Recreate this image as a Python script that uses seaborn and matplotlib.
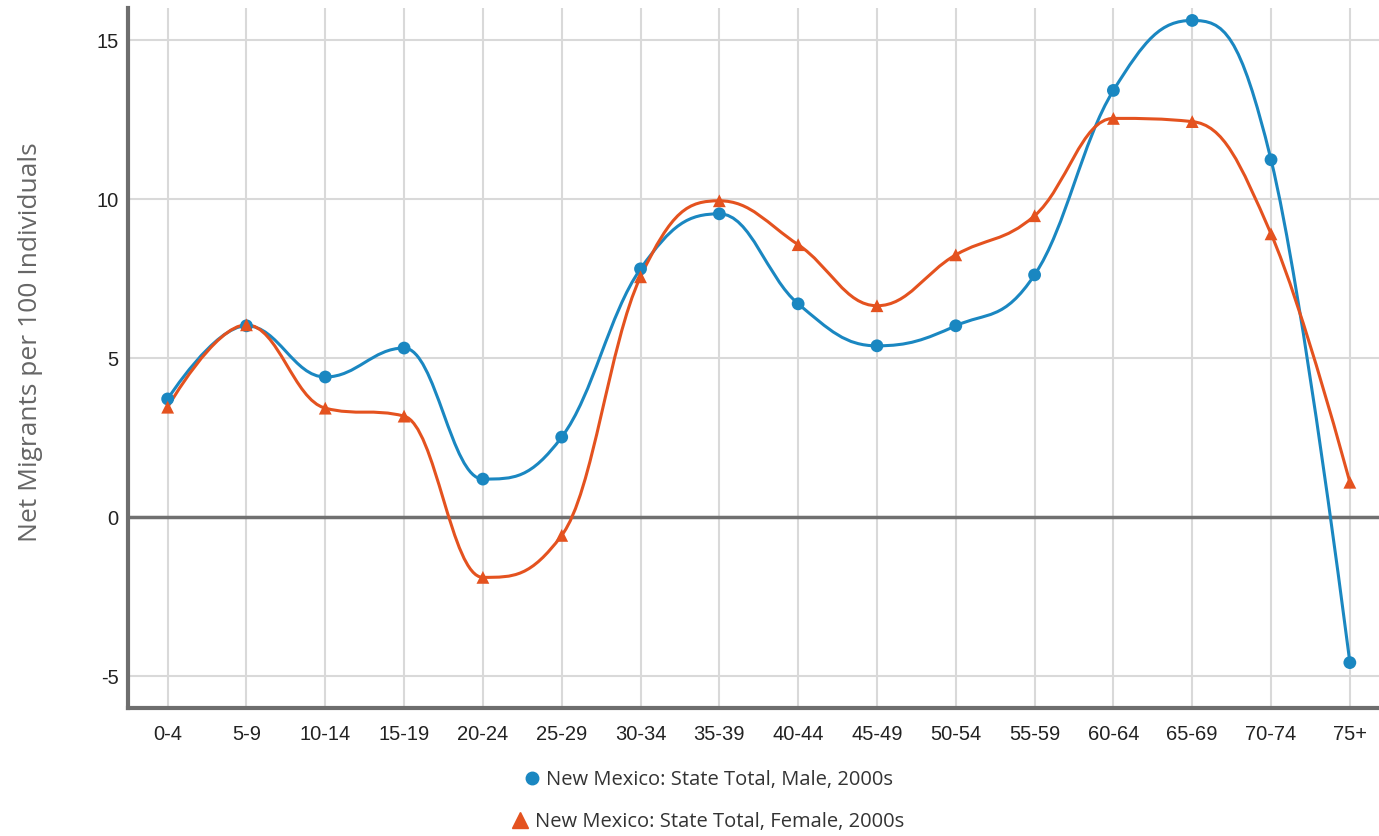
import numpy as np
import pandas as pd
import matplotlib
matplotlib.use("Agg")
import matplotlib.pyplot as plt
import seaborn as sns
from matplotlib.path import Path
from matplotlib.patches import PathPatch
from matplotlib.lines import Line2D

# data
age_groups = ['0-4', '5-9', '10-14', '15-19', '20-24', '25-29', '30-34', '35-39',
              '40-44', '45-49', '50-54', '55-59', '60-64', '65-69', '70-74', '75+']
male = [3.72, 6.02, 4.41, 5.32, 1.20, 2.52, 7.81, 9.54,
        6.71, 5.39, 6.02, 7.62, 13.42, 15.62, 11.24, -4.57]
female = [3.46, 6.05, 3.43, 3.18, -1.89, -0.57, 7.56, 9.95,
          8.57, 6.65, 8.25, 9.48, 12.54, 12.44, 8.91, 1.10]

male_label = 'New Mexico: State Total, Male, 2000s'
female_label = 'New Mexico: State Total, Female, 2000s'
blue = '#1a87c1'
orange = '#e4521f'

df = pd.DataFrame({
    'age': age_groups * 2,
    'x': list(range(len(age_groups))) * 2,
    'value': male + female,
    'series': ['Male'] * len(male) + ['Female'] * len(female),
})


def spline_path(xs, ys, smoothing=1.5):
    # highcharts style spline: bezier control points around each point
    n = len(xs)
    left = [(xs[i], ys[i]) for i in range(n)]
    right = [(xs[i], ys[i]) for i in range(n)]
    d = smoothing + 1
    for i in range(1, n - 1):
        px, py = xs[i], ys[i]
        lx, ly = xs[i - 1], ys[i - 1]
        nx, ny = xs[i + 1], ys[i + 1]
        lcx = (smoothing * px + lx) / d
        lcy = (smoothing * py + ly) / d
        rcx = (smoothing * px + nx) / d
        rcy = (smoothing * py + ny) / d
        if rcx != lcx:
            corr = (rcy - lcy) * (rcx - px) / (rcx - lcx) + py - rcy
            lcy += corr
            rcy += corr
        if lcy > ly and lcy > py:
            lcy = max(ly, py)
            rcy = 2 * py - lcy
        elif lcy < ly and lcy < py:
            lcy = min(ly, py)
            rcy = 2 * py - lcy
        if rcy > ny and rcy > py:
            rcy = max(ny, py)
            lcy = 2 * py - rcy
        elif rcy < ny and rcy < py:
            rcy = min(ny, py)
            lcy = 2 * py - rcy
        left[i] = (lcx, lcy)
        right[i] = (rcx, rcy)
    verts = [(xs[0], ys[0])]
    codes = [Path.MOVETO]
    for i in range(1, n):
        verts += [right[i - 1], left[i], (xs[i], ys[i])]
        codes += [Path.CURVE4] * 3
    return Path(verts, codes)


sns.set_style('white')
plt.rcParams['font.family'] = ['Liberation Sans', 'DejaVu Sans']
plt.rcParams['axes.unicode_minus'] = False

fig = plt.figure(figsize=(13.79, 8.36), dpi=100)
ax = fig.add_axes([0.093, 0.153, 0.907, 0.837])

ax.set_xlim(-0.5, 15.37)
ax.set_ylim(-6.0, 16.0)
ax.set_yticks([-5, 0, 5, 10, 15])
ax.set_xticks(range(len(age_groups)))
ax.set_xticklabels(age_groups)
ax.grid(True, color='#d9d9d9', linewidth=1.5)
ax.set_axisbelow(True)
ax.axhline(0, color='#707070', linewidth=2.5, zorder=1)

for s in ['top', 'right']:
    ax.spines[s].set_visible(False)
for s in ['left', 'bottom']:
    ax.spines[s].set_color('#6e6e6e')
    ax.spines[s].set_linewidth(3)

xs = list(range(len(age_groups)))
ax.add_patch(PathPatch(spline_path(xs, male), facecolor='none', edgecolor=blue,
                       linewidth=2.2, zorder=3))
ax.add_patch(PathPatch(spline_path(xs, female), facecolor='none', edgecolor=orange,
                       linewidth=2.2, zorder=3))

sns.scatterplot(data=df, x='x', y='value', hue='series', style='series',
                palette={'Male': blue, 'Female': orange},
                markers={'Male': 'o', 'Female': '^'},
                s=85, edgecolor='none', legend=False, zorder=4, ax=ax)

ax.set_xlabel('')
ax.set_ylabel('Net Migrants per 100 Individuals', fontsize=19, color='#666666',
              family=['Open Sans', 'DejaVu Sans'])
ax.yaxis.set_label_coords(-0.068, 0.523)
ax.tick_params(axis='both', labelsize=14.5, colors='#222222', length=0)
ax.tick_params(axis='x', pad=12)
ax.tick_params(axis='y', pad=7)

legend_font = {'family': ['Open Sans', 'DejaVu Sans'], 'size': 14.5}
leg1 = fig.legend([Line2D([], [], color=blue, marker='o', linestyle='none', markersize=9)],
                  [male_label], loc='center', bbox_to_anchor=(0.512, 0.067),
                  frameon=False, prop=legend_font, labelcolor='#333333',
                  handletextpad=0.1, handlelength=1.2)
leg2 = fig.legend([Line2D([], [], color=orange, marker='^', linestyle='none', markersize=11)],
                  [female_label], loc='center', bbox_to_anchor=(0.512, 0.0167),
                  frameon=False, prop=legend_font, labelcolor='#333333',
                  handletextpad=0.1, handlelength=1.2)

fig.savefig('out.png', dpi=100)
